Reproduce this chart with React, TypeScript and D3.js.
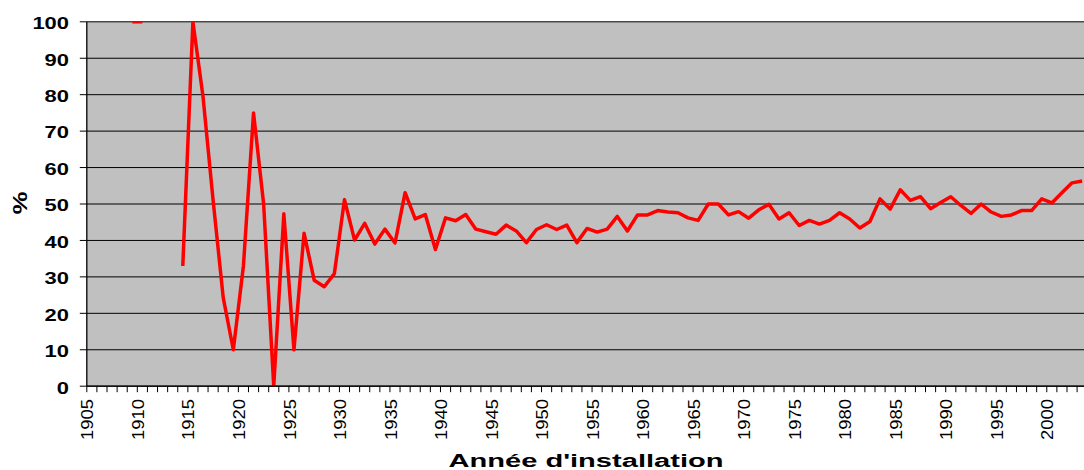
import React from "react";
import * as d3 from "d3";

const firstYear = 1905;
const lastYear = 2003;
const years: number[] = d3.range(firstYear, lastYear + 1);

// share (%) per year of installation, 1905..2003 (null = no data)
const values: (number | null)[] = [
  null, null, null, null, 100, 100, null, null, null, 33,
  100, 79.5, 51, 24.3, 10, 33, 75, 50, 0, 47.3,
  10, 42, 29.1, 27.3, 30.9, 51.2, 40.1, 44.7, 39, 43.1,
  39.3, 53.1, 45.9, 47.1, 37.5, 46.2, 45.4, 47.1, 43.1, 42.4,
  41.7, 44.2, 42.6, 39.4, 43, 44.3, 43, 44.2, 39.4, 43.3,
  42.3, 43.1, 46.6, 42.6, 47, 47, 48.2, 47.8, 47.6, 46.2,
  45.5, 50, 50, 47, 47.9, 46.1, 48.4, 49.9, 45.9, 47.6,
  44.1, 45.5, 44.5, 45.5, 47.6, 45.9, 43.4, 45.2, 51.4, 48.6,
  53.9, 51, 52, 48.7, 50.4, 52, 49.6, 47.4, 50, 47.8,
  46.6, 47, 48.2, 48.2, 51.4, 50.3, 53.1, 55.8, 56.3,
];

const yTicks: number[] = [0, 10, 20, 30, 40, 50, 60, 70, 80, 90, 100];
const xTickLabels: number[] = [1905, 1910, 1915, 1920, 1925, 1930, 1935, 1940, 1945, 1950, 1955, 1960, 1965, 1970, 1975, 1980, 1985, 1990, 1995, 2000];

const xTitle = "Année d'installation";
const yTitle = "%";

const FONT = "Arial, 'Liberation Sans', sans-serif";

export default function App() {
  const L = 86.8;
  const bw = 10.105;
  const R = L + years.length * bw;
  const T = 21.8;
  const B = 386.2;

  const x = d3.scaleBand<number>().domain(years).range([L, R]).paddingInner(0).paddingOuter(0);
  const y = d3.scaleLinear().domain([0, 100]).range([B, T]);

  const pts = years.map((yr, i) => ({ yr, v: values[i] }));
  const line = d3
    .line<{ yr: number; v: number | null }>()
    .defined((d) => d.v !== null)
    .x((d) => (x(d.yr) as number) + x.bandwidth() / 2)
    .y((d) => y(d.v as number));

  return (
    <svg
      width={1084}
      height={470}
      style={{ position: "absolute", left: 0, top: 0, background: "#fff" }}
      fontFamily={FONT}
    >
      <defs>
        <clipPath id="plotClip">
          <rect x={L} y={T} width={R - L} height={B - T} />
        </clipPath>
      </defs>
      <rect x={L} y={T} width={R - L} height={B - T} fill="#C0C0C0" />
      {yTicks.map((t) => (
        <line key={"g" + t} x1={L} x2={R} y1={y(t)} y2={y(t)} stroke="#000" strokeWidth={1} />
      ))}
      <path
        d={line(pts) || ""}
        fill="none"
        stroke="#FF0000"
        strokeWidth={3.5}
        strokeLinejoin="round"
        clipPath="url(#plotClip)"
      />
      {/* y axis */}
      <line x1={L} x2={L} y1={T} y2={B} stroke="#000" strokeWidth={1.3} />
      {yTicks.map((t) => (
        <g key={"yt" + t}>
          <line x1={L - 7} x2={L} y1={y(t)} y2={y(t)} stroke="#000" strokeWidth={1} />
          <text
            x={69}
            y={y(t) + 7.3}
            textAnchor="end"
            fontSize={17}
            fontWeight="bold"
            textLength={String(t).length * 12.2}
            lengthAdjust="spacingAndGlyphs"
            fill="#000"
          >
            {t}
          </text>
        </g>
      ))}
      {/* x axis */}
      <line x1={L} x2={R} y1={B} y2={B} stroke="#000" strokeWidth={1.3} />
      {d3.range(years.length + 1).map((k) => (
        <line key={"xt" + k} x1={L + k * bw} x2={L + k * bw} y1={B} y2={B + 6} stroke="#000" strokeWidth={1} />
      ))}
      {xTickLabels.map((yr) => {
        const px = (x(yr) as number) + 1;
        return (
          <text
            key={"xl" + yr}
            transform={`translate(${px},399) rotate(-90)`}
            textAnchor="end"
            dy="0.35em"
            fontSize={16}
            textLength={41}
            lengthAdjust="spacingAndGlyphs"
            fill="#000"
          >
            {yr}
          </text>
        );
      })}
      <text
        x={(L + R) / 2 - 1}
        y={466.7}
        textAnchor="middle"
        fontSize={18.7}
        fontWeight="bold"
        textLength={275}
        lengthAdjust="spacingAndGlyphs"
        fill="#000"
      >
        {xTitle}
      </text>
      <text
        transform={`translate(20,203) rotate(-90)`}
        textAnchor="middle"
        dy="0.35em"
        fontSize={20}
        fontWeight="bold"
        textLength={23}
        lengthAdjust="spacingAndGlyphs"
        fill="#000"
      >
        {yTitle}
      </text>
    </svg>
  );
}
